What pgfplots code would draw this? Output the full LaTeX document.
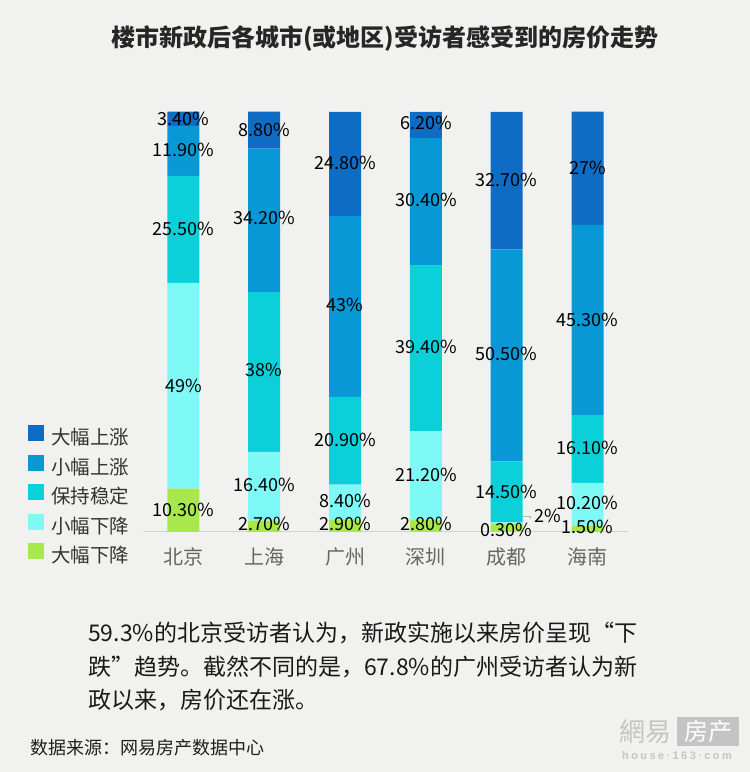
\documentclass[border=0pt]{standalone}
\usepackage{fontspec}
\setmainfont{Noto Sans CJK SC}
\newfontfamily\wmfont[LetterSpace=22]{Liberation Sans}
\usepackage{pgfplots}
\pgfplotsset{compat=1.18}
\definecolor{bg}{HTML}{F1F2F0}
\definecolor{cA}{HTML}{0F6CC4}
\definecolor{cB}{HTML}{0898D6}
\definecolor{cC}{HTML}{0BD0D9}
\definecolor{cD}{HTML}{7FF9F6}
\definecolor{cE}{HTML}{A8E84A}
\definecolor{axgray}{HTML}{D2D2D2}
\definecolor{tickgray}{HTML}{666666}
\definecolor{leggray}{HTML}{333333}
\definecolor{wm}{HTML}{C4C4C4}
\begin{document}
\begin{tikzpicture}[x=1pt,y=1pt]
\fill[bg] (0pt,0pt) rectangle (750pt,772pt);
% title
\node[anchor=base, font=\bfseries\fontsize{24}{24}\selectfont, text=black!85] at (385pt,725pt) {楼市新政后各城市(或地区)受访者感受到的房价走势};
\begin{axis}[
  at={(143pt,240pt)}, anchor=south west,
  scale only axis, width=485pt, height=420pt,
  xmin=-0.5, xmax=5.5, ymin=0, ymax=100,
  clip=false,
  ybar stacked, bar width=32pt,
  axis x line*=bottom, axis y line=none,
  x axis line style={draw=axgray, line width=1pt},
  xtick=data, major tick length=0pt,
  xticklabels={北京,上海,广州,深圳,成都,海南},
  xticklabel style={anchor=base, yshift=-33pt, font=\fontsize{20}{20}\selectfont, text=tickgray},
  ytick=\empty,
  every axis plot/.append style={draw=none},
  reverse legend,
  legend cell align=left,
  legend image code/.code={\fill[#1] (0pt,-1pt) rectangle (16pt,15pt);},
  legend style={at={(-0.237,0.255)}, anchor=north west, draw=none, fill=none,
    inner sep=0pt, row sep=0pt, column sep=7pt,
    nodes={inner sep=0pt, text height=19pt, text depth=10pt, font=\fontsize{19.5}{19.5}\selectfont, text=leggray}},
]
\addplot[fill=cE] coordinates {(0,10.3) (1,2.7) (2,2.9) (3,2.8) (4,2) (5,1.5)};
\addplot[fill=cD] coordinates {(0,49) (1,16.4) (2,8.4) (3,21.2) (4,0.3) (5,10.2)};
\addplot[fill=cC] coordinates {(0,25.5) (1,38) (2,20.9) (3,39.4) (4,14.5) (5,16.1)};
\addplot[fill=cB] coordinates {(0,11.9) (1,34.2) (2,43) (3,30.4) (4,50.5) (5,45.3)};
\addplot[fill=cA] coordinates {(0,3.4) (1,8.8) (2,24.8) (3,6.2) (4,32.7) (5,27)};
\legend{大幅下降,小幅下降,保持稳定,小幅上涨,大幅上涨}
% label anchor points (segment middles)
\coordinate (a1) at (axis cs:0,5.15);
\coordinate (a2) at (axis cs:0,34.8);
\coordinate (a3) at (axis cs:0,72.05);
\coordinate (a4) at (axis cs:0,90.9);
\coordinate (a5) at (axis cs:0,98.4);
\coordinate (b1) at (axis cs:1,1.9);
\coordinate (b2) at (axis cs:1,11.1);
\coordinate (b3) at (axis cs:1,38.5);
\coordinate (b4) at (axis cs:1,74.8);
\coordinate (b5) at (axis cs:1,95.7);
\coordinate (c1) at (axis cs:2,2.0);
\coordinate (c2) at (axis cs:2,7.5);
\coordinate (c3) at (axis cs:2,22.0);
\coordinate (c4) at (axis cs:2,54.0);
\coordinate (c5) at (axis cs:2,87.9);
\coordinate (d1) at (axis cs:3,2.0);
\coordinate (d2) at (axis cs:3,13.6);
\coordinate (d3) at (axis cs:3,44.0);
\coordinate (d4) at (axis cs:3,79.0);
\coordinate (d5) at (axis cs:3,97.3);
\coordinate (e1) at (axis cs:4.51,3.8);
\coordinate (e2) at (axis cs:4,0.4);
\coordinate (e3) at (axis cs:4,9.6);
\coordinate (e4) at (axis cs:4,42.3);
\coordinate (e5) at (axis cs:4,83.8);
\coordinate (f1) at (axis cs:5,1.2);
\coordinate (f2) at (axis cs:5,6.9);
\coordinate (f3) at (axis cs:5,20.0);
\coordinate (f4) at (axis cs:5,50.5);
\coordinate (f5) at (axis cs:5,86.7);
\coordinate (g1) at (axis cs:4.2,3.6);
\coordinate (g2) at (axis cs:4.29,3.6);
\coordinate (g3) at (axis cs:4.29,3.0);
\end{axis}
\begin{scope}[every node/.style={font=\fontsize{18}{18}\selectfont, text=black, inner sep=0pt}]
\node at (a1) {10.30\%};
\node at (a2) {49\%};
\node at (a3) {25.50\%};
\node at (a4) {11.90\%};
\node at (a5) {3.40\%};
\node at (b1) {2.70\%};
\node at (b2) {16.40\%};
\node at (b3) {38\%};
\node at (b4) {34.20\%};
\node at (b5) {8.80\%};
\node at (c1) {2.90\%};
\node at (c2) {8.40\%};
\node at (c3) {20.90\%};
\node at (c4) {43\%};
\node at (c5) {24.80\%};
\node at (d1) {2.80\%};
\node at (d2) {21.20\%};
\node at (d3) {39.40\%};
\node at (d4) {30.40\%};
\node at (d5) {6.20\%};
\draw[gray!60, line width=0.8pt] (g1) -- (g2) -- (g3);
\node at (e1) {2\%};
\node at (e2) {0.30\%};
\node at (e3) {14.50\%};
\node at (e4) {50.50\%};
\node at (e5) {32.70\%};
\node at (f1) {1.50\%};
\node at (f2) {10.20\%};
\node at (f3) {16.10\%};
\node at (f4) {45.30\%};
\node at (f5) {27\%};
\end{scope}
% paragraph
\begin{scope}[every node/.style={anchor=base west, inner sep=0pt, font=\fontsize{23}{23}\selectfont, text=black!90}]
\node at (88pt,130pt) {59.3\%的北京受访者认为，新政实施以来房价呈现“下};
\node at (88pt,96.5pt) {跌”趋势。截然不同的是，67.8\%的广州受访者认为新};
\node at (88pt,63pt) {政以来，房价还在涨。};
\end{scope}
% source
\node[anchor=base west, inner sep=0pt, font=\fontsize{18}{18}\selectfont, text=black!88] at (30pt,17pt) {数据来源：网易房产数据中心};
% watermark
\node[inner sep=0pt, font=\fontsize{26}{26}\selectfont, text=wm] at (645pt,40pt) {網易};
\fill[wm] (677pt,26pt) rectangle (739pt,55pt);
\node[inner sep=0pt, font=\fontsize{24}{24}\selectfont, text=white] at (708pt,40.5pt) {房产};
\node[inner sep=0pt, font=\wmfont\bfseries\fontsize{11}{11}\selectfont, text=wm] at (677pt,16pt) {house·163·com};
\end{tikzpicture}
\end{document}
